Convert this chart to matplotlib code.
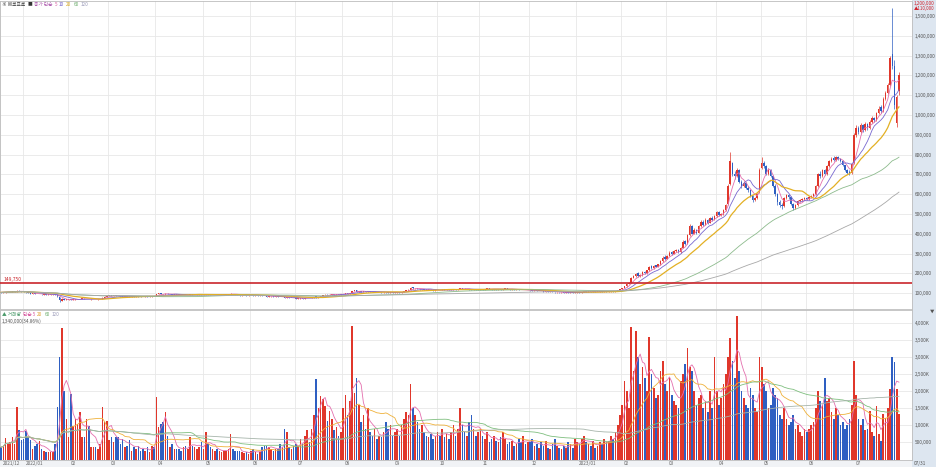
import numpy as np
import pandas as pd
import matplotlib
matplotlib.use("Agg")
import matplotlib.pyplot as plt
from matplotlib.patches import Rectangle
import matplotlib.transforms as mtransforms

plt.rcParams['font.family'] = ['Noto Sans CJK KR', 'DejaVu Sans']

month_labels = ['2021/12', '2022/01', '02', '03', '04', '05', '06', '07', '08', '09', '10',
                '11', '12', '2023/01', '02', '03', '04', '05', '06', '07']
month_days = [10, 20, 18, 21, 21, 21, 20, 21, 22, 20, 19, 22, 21, 20, 20, 22, 20, 20, 21, 21]

# prices in thousand KRW, one value per trading day
opens = [
    106,103,104,105,105,106,107,108,113,111,
    108,106,104,101,98,100,97,95,97,93,95,92,93,94,95,90,82,62,70,65,
    65,67,65,67,69,70,72,73,69,71,68,69,71,68,69,72,77,82,
    86,88,86,88,86,85,84,82,84,83,81,83,82,84,83,82,81,83,82,84,86,
    86,95,99,96,94,98,95,96,93,94,92,91,90,91,90,91,93,91,92,93,94,
    92,93,96,93,90,91,92,90,91,92,93,94,95,98,95,93,91,89,90,91,89,
    90,91,89,90,88,89,87,85,83,84,85,83,84,82,80,81,76,78,76,77,
    75,72,73,75,73,75,77,75,78,84,79,82,86,90,93,90,93,95,93,95,93,
    95,97,101,98,101,110,115,108,111,108,110,107,109,106,105,107,105,107,104,106,104,102,
    104,102,104,106,104,107,110,114,118,129,124,127,122,119,121,118,116,118,115,113,
    115,117,115,118,116,118,116,118,121,119,121,126,123,120,122,119,116,118,116,
    118,121,119,121,123,121,119,121,119,120,118,121,123,121,119,120,118,119,117,115,117,115,
    116,114,112,113,111,112,110,108,110,108,109,107,104,106,104,105,103,104,102,104,102,
    104,106,104,106,109,107,108,106,108,106,107,109,107,109,107,109,111,109,112,115,
    119,126,135,148,152,178,185,200,185,190,208,200,215,235,226,240,232,245,262,285,
    275,290,308,298,312,320,308,330,362,350,395,440,400,420,405,440,462,445,470,455,480,470,
    490,512,495,500,520,550,650,760,700,690,720,660,640,655,630,620,590,570,580,610,
    730,760,740,700,720,690,640,600,560,545,540,580,595,585,550,530,545,565,570,578,
    580,575,585,590,600,640,700,690,720,700,740,770,785,775,790,780,770,745,720,712,705,
    760,900,935,915,950,925,955,935,965,985,975,1010,1040,1020,1080,1110,1150,1310,1250,960,1120,
]
highs = [
    107,106,107,108,108,109,110,115,115,112,
    109,107,105,102,101,101,98,98,98,96,96,94,95,96,96,91,83,76,72,70,
    68,68,68,70,71,73,74,74,72,72,71,72,72,71,72,79,84,88,
    89,89,89,89,87,86,85,85,85,84,84,84,85,85,84,83,84,84,85,87,87,
    97,101,100,97,99,99,97,97,95,95,93,92,92,92,92,94,94,93,94,95,95,
    94,98,97,94,92,93,93,92,93,94,95,96,100,98,96,94,92,91,92,92,91,
    92,92,91,91,90,90,88,86,85,86,86,85,85,83,82,82,80,79,78,78,
    76,75,76,76,76,78,78,79,83,86,83,87,91,95,94,94,96,96,96,96,96,
    98,101,102,102,112,117,116,112,112,111,111,110,110,107,108,108,108,108,107,107,105,105,
    105,105,107,107,108,111,115,119,131,132,128,128,123,122,122,119,119,119,116,116,
    118,118,119,119,119,119,119,122,122,122,128,127,124,123,123,120,119,119,119,
    122,122,122,124,124,122,122,122,121,121,122,124,124,122,121,121,120,120,118,118,118,117,
    117,115,114,114,113,113,111,111,111,110,110,108,107,107,106,106,105,105,105,105,105,
    107,107,107,110,110,109,109,109,109,108,110,110,110,110,110,112,112,113,116,121,
    128,138,152,158,182,192,203,206,195,210,212,218,238,240,242,244,248,268,290,292,
    295,312,312,316,322,324,334,368,370,400,450,445,428,425,445,468,470,478,475,485,488,495,
    515,515,505,525,550,650,815,765,715,730,725,670,665,660,640,625,595,585,605,730,
    787,770,745,730,725,695,650,605,570,555,585,600,600,590,555,550,570,575,580,588,
    585,590,595,605,645,705,715,725,725,745,775,790,795,795,795,785,775,750,725,720,760,
    910,950,945,960,955,965,960,975,995,990,1015,1045,1050,1090,1120,1160,1300,1540,1280,1100,1215,
]
lows = [
    103,102,103,104,104,105,106,107,109,107,
    105,103,100,97,97,96,94,94,93,92,91,91,92,93,89,83,57,60,64,64,
    63,64,64,66,68,69,71,69,68,68,67,68,68,67,68,71,76,81,
    85,85,85,85,84,83,81,81,82,80,80,81,81,82,81,80,80,81,81,83,84,
    85,94,95,93,93,94,94,92,92,91,90,89,89,89,89,90,90,90,91,92,91,
    91,92,92,89,89,90,89,89,90,91,92,93,94,94,92,90,88,88,89,88,88,
    89,88,88,87,87,86,84,82,82,83,82,82,81,79,79,74,75,75,75,74,
    72,71,72,72,72,74,74,74,77,78,78,81,85,89,89,89,92,92,92,92,92,
    94,96,97,97,100,109,107,107,107,107,106,106,105,104,104,104,104,103,103,103,101,101,
    101,101,103,103,103,106,109,113,117,123,123,121,118,118,117,115,115,114,112,112,
    114,114,114,115,115,115,115,117,118,118,120,122,119,119,118,115,115,115,115,
    117,118,118,120,120,118,118,118,118,117,117,120,120,118,118,117,117,116,114,114,114,114,
    113,111,111,110,110,109,107,107,107,107,106,103,103,103,103,102,102,101,101,101,101,
    103,103,103,105,106,106,105,105,105,105,106,106,106,106,106,108,108,108,111,114,
    118,124,133,145,150,175,180,182,182,187,198,198,212,222,224,230,230,242,258,270,
    272,288,295,296,308,305,305,328,345,348,390,398,398,400,402,436,440,442,450,452,465,468,
    485,490,488,495,515,545,645,690,675,685,655,630,635,625,610,585,560,565,575,605,
    725,730,695,695,685,635,590,545,535,525,535,575,575,545,520,525,540,560,565,570,
    570,572,582,585,598,638,680,685,695,695,735,765,770,770,775,765,740,715,700,695,700,
    755,890,905,910,915,920,925,930,960,965,970,1005,1010,1015,1075,1105,1145,1230,1030,940,1100,
]
closes = [
    104,105,106,106,107,108,109,112,110,108,
    106,104,101,98,100,97,95,97,94,95,92,93,94,95,90,84,63,70,66,68,
    67,65,67,69,70,72,73,70,71,69,70,71,69,70,71,77,82,86,
    88,86,88,86,85,84,82,84,83,81,83,82,84,83,82,81,83,82,84,86,85,
    95,99,96,94,98,95,96,93,94,92,91,90,91,90,91,93,91,92,93,94,92,
    93,96,93,90,91,92,90,91,92,93,94,95,98,95,93,91,89,90,91,89,90,
    91,89,90,88,89,87,85,83,84,85,83,84,82,80,81,76,78,76,77,75,
    73,74,75,73,75,77,75,78,82,79,82,86,90,93,90,93,95,93,95,93,95,
    97,100,98,101,110,114,108,111,108,110,107,109,106,105,107,105,107,104,106,104,102,104,
    102,104,106,104,107,110,114,118,128,124,127,122,119,121,118,116,118,115,113,115,
    117,115,118,116,118,116,118,121,119,121,126,123,120,122,119,116,118,116,118,
    121,119,121,123,121,119,121,119,120,118,121,123,121,119,120,118,119,117,115,117,115,116,
    114,112,113,111,112,110,108,110,108,109,107,104,106,104,105,103,104,102,104,102,104,
    106,104,106,109,107,108,106,108,106,107,109,107,109,107,109,111,109,112,115,119,
    126,135,148,152,178,185,198,185,190,205,200,215,232,226,238,232,245,262,280,275,
    290,305,298,312,318,308,330,360,350,395,440,400,420,405,440,460,445,470,455,480,470,490,
    510,495,500,520,545,640,770,700,690,720,660,640,655,630,620,590,570,580,600,720,
    760,740,700,720,690,640,600,560,545,540,580,595,585,550,530,545,565,570,575,580,
    575,585,590,600,640,700,690,720,700,740,770,780,775,790,780,770,745,720,705,700,755,
    900,935,915,950,925,955,935,965,985,975,1010,1030,1020,1080,1110,1150,1290,1250,1050,1090,1200,
]
# volume in thousand shares
volumes = [
    360,410,640,480,500,660,460,1550,850,580,
    600,830,650,570,310,410,440,540,310,260,210,210,210,210,460,1550,3000,3850,2000,1190,
    650,1920,990,1190,1040,1380,650,650,1190,990,360,360,360,310,460,1550,1090,1140,
    560,650,510,650,670,460,600,360,410,560,260,360,310,410,260,310,260,360,210,410,360,
    1820,940,1040,1090,1380,700,360,460,310,310,310,260,360,410,310,650,410,360,310,360,510,
    310,800,460,360,310,260,310,260,210,260,260,310,750,310,260,240,260,210,185,210,166,
    260,310,210,166,210,360,410,410,360,310,260,310,310,460,360,900,800,360,310,410,
    460,410,600,450,700,850,500,900,1300,2350,1500,1870,1780,1580,1140,1430,1200,870,950,700,800,
    1500,1900,1300,1700,3900,1950,2400,1600,1100,1300,900,1500,800,700,900,600,700,650,800,1100,900,1000,
    700,800,900,700,1000,1200,1400,1300,2200,1500,1300,1100,900,1000,800,700,650,750,600,700,
    800,700,900,650,750,600,800,1000,700,900,1500,1000,800,700,1100,1300,900,700,800,
    900,700,600,800,500,600,700,550,500,650,800,600,450,500,550,400,450,600,500,700,450,500,
    500,600,400,450,350,500,400,550,350,300,450,600,400,350,300,400,350,500,450,350,600,
    500,450,600,700,500,450,400,550,350,400,500,450,600,500,550,700,600,800,1000,1300,
    1600,2300,2000,1500,3880,2600,3770,3000,2200,2700,2400,2000,3600,2500,2100,1800,1900,2600,2900,2200,
    2000,2400,1900,1700,1600,1500,2300,2500,2800,3270,2700,2600,2000,1600,1800,1900,1500,1700,1400,2000,1500,3000,
    2000,1600,1800,2200,2500,3000,3550,2900,2400,4200,2600,2000,1800,1600,1500,2100,1900,1500,1400,3000,
    2700,2200,2000,1500,1600,2100,1900,1800,1300,1200,1500,1200,1000,1100,1300,900,1000,800,700,900,
    800,900,1000,1100,1500,2000,1700,1600,2400,1700,1800,1400,1200,1500,1300,1000,1100,900,1000,1200,1600,
    2900,1900,1200,1000,1200,850,900,1430,800,700,1580,750,550,1340,1230,1500,2070,3000,2850,2070,1340,
]
ref_level = 149750
price_ma_periods = [5, 10, 20, 60, 120]
vol_ma_periods = [5, 20, 60, 120]

n = sum(month_days)
for name, arr in [('opens', opens), ('highs', highs), ('lows', lows), ('closes', closes), ('volumes', volumes)]:
    assert len(arr) == n, (name, len(arr), n)

o = np.array(opens) * 1000.0
h = np.array(highs) * 1000.0
l = np.array(lows) * 1000.0
c = np.array(closes) * 1000.0
v = np.array(volumes, dtype=float)
x = np.arange(n)
starts = np.concatenate([[0], np.cumsum(month_days)[:-1]])

RED = '#e0372b'
BLUE = '#2e5fc2'
up = c >= o
cols = np.where(up, RED, BLUE)

W, H = 936, 467
fig = plt.figure(figsize=(W / 100, H / 100), dpi=100)
fig.patch.set_facecolor('white')
fig.patches.append(Rectangle((912 / W, 0), 24 / W, 1, transform=fig.transFigure,
                             facecolor='#dde6f0', edgecolor='none', zorder=-10))
fig.patches.append(Rectangle((0, 0), 912 / W, 7.5 / H, transform=fig.transFigure,
                             facecolor='#f1f3f6', edgecolor='none', zorder=-10))


def fy(py):
    return 1 - py / H


ax1 = fig.add_axes([0, fy(309), 912 / W, 308 / H])
ax2 = fig.add_axes([0, fy(459.5), 912 / W, 149.5 / H])

# ---------- price panel ----------
ax1.vlines(x, l, h, colors=cols, linewidth=0.5, zorder=3)
ax1.bar(x, np.maximum(np.abs(c - o), 3000), bottom=np.minimum(o, c), width=0.62,
        color=cols, linewidth=0, zorder=4)
ma_cols = ['#e46fae', '#7868d0', '#e3b024', '#8dbb8d', '#a8a8a8']
cs = pd.Series(c)
for p, col in zip(price_ma_periods, ma_cols):
    ax1.plot(x, cs.rolling(p, min_periods=1).mean(), color=col,
             lw=0.9 if p == 20 else 0.6, zorder=5)
ax1.axhline(ref_level, color='#c9262c', lw=1.2, zorder=6)
ax1.text(1, ref_level + 8000, f"{ref_level:,}", color='#c9262c', fontsize=3.6,
         ha='left', va='bottom', zorder=7)

ax1.set_xlim(-0.5, 404.8)
ax1.set_ylim(20000, 1576000)
pt = np.arange(100000, 1500001, 100000)
ax1.set_yticks(pt)
ax1.yaxis.tick_right()
ax1.set_yticklabels([f"{int(t):,}" for t in pt])
ax1.set_xticks(starts - 0.5)
ax1.tick_params(axis='x', length=0, labelbottom=False)
ax1.tick_params(axis='y', length=0, pad=2.2, labelsize=3.4, labelcolor='#555555')
ax1.grid(True, color='#e8e8e8', lw=0.6)
ax1.set_axisbelow(True)
for s in ax1.spines.values():
    s.set_color('#bdbdbd')
    s.set_linewidth(0.6)

# ---------- volume panel ----------
ax2.bar(x, v, width=0.74, color=cols, linewidth=0, zorder=3)
vma_cols = ['#e46fae', '#efb13a', '#7fbf7f', '#a6b4aa']
vs = pd.Series(v)
for p, col in zip(vol_ma_periods, vma_cols):
    ax2.plot(x, vs.rolling(p, min_periods=1).mean(), color=col, lw=0.6, zorder=4)
ax2.set_xlim(-0.5, 404.8)
ax2.set_ylim(0, 4380)
vt = np.arange(500, 4001, 500)
ax2.set_yticks(vt)
ax2.yaxis.tick_right()
ax2.set_yticklabels(['500,000' if t == 500 else f"{int(t):,}K" for t in vt])
ax2.set_xticks(starts - 0.5)
ax2.tick_params(axis='x', length=0, labelbottom=False)
ax2.tick_params(axis='y', length=0, pad=2.2, labelsize=3.4, labelcolor='#555555')
ax2.grid(True, color='#e8e8e8', lw=0.6)
ax2.set_axisbelow(True)
for s in ax2.spines.values():
    s.set_color('#bdbdbd')
    s.set_linewidth(0.6)

trans = mtransforms.blended_transform_factory(ax2.transData, ax2.transAxes)
for d, lab in zip(starts, month_labels):
    ax2.text(d + 0.8, -0.008, lab, transform=trans, ha='left', va='top',
             fontsize=3.4, color='#666666', clip_on=False)
fig.text(914 / W, fy(463.5), '07/31', fontsize=3.4, color='#555555', va='center', ha='left')

# ---------- legends / labels ----------
fig.canvas.draw()
renderer = fig.canvas.get_renderer()


def legend_row(px, py, pieces, size=3.4, gap=2.0):
    cur = px
    for s, col in pieces:
        t = fig.text(cur / W, fy(py), s, fontsize=size, color=col, ha='left', va='center')
        bb = t.get_window_extent(renderer=renderer)
        cur += bb.width + gap


legend_row(2, 4, [('※ 에코프로', '#333333'), ('■', '#333333'), ('종가 단순', '#b05fb0'),
                  ('5', '#d85aa0'), ('10', '#6a5cc8'), ('20', '#d8a820'),
                  ('60', '#6fae6f'), ('120', '#9a9ab8')])
legend_row(2, 315, [('▲ 거래량', '#4a9a6a'), ('단순 5', '#d85aa0'), ('20', '#e0a030'),
                    ('60', '#6fae6f'), ('120', '#9a9ab8')])
legend_row(2, 321, [(f"{int(volumes[-1] * 1000):,}(34.86%)", '#555555')])

fig.text(914 / W, fy(3), f"{int(c[-1]):,}", fontsize=3.4, color='#d0202a', ha='left', va='center')
fig.text(914 / W, fy(8.5), f"▲{int(c[-1] - c[-2]):,}", fontsize=3.2, color='#d0202a',
         ha='left', va='center')
fig.text(932 / W, fy(311), '▼', fontsize=3.2, color='#555555', ha='center', va='center')

fig.savefig('out.png', dpi=100)
